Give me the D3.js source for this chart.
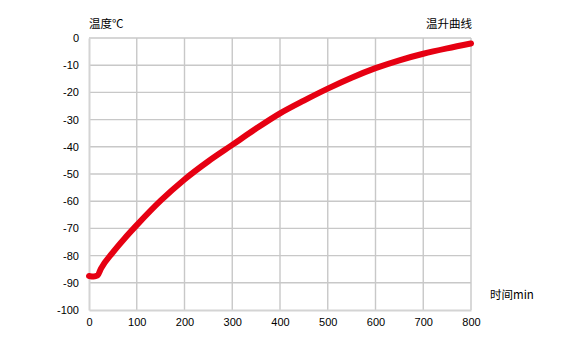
<!DOCTYPE html>
<html><head><meta charset="utf-8">
<script src="https://cdn.jsdelivr.net/npm/d3@7"></script>
<style>body{margin:0;background:#fff}svg{display:block}</style>
</head><body><svg id="c" width="580" height="350"></svg>
<script>
const minutes = [0,10,18,25,50,75,100,150,200,250,300,350,400,450,500,550,600,650,700,750,800];
const temps = [-87.5,-87.7,-87.3,-84.8,-78.8,-73.6,-68.8,-59.8,-52,-45.3,-39.3,-33.3,-27.7,-23,-18.6,-14.6,-11.1,-8.2,-5.8,-3.8,-2];
const xTicks = [0,100,200,300,400,500,600,700,800];
const yTicks = [0,-10,-20,-30,-40,-50,-60,-70,-80,-90,-100];
const yTitle = "温度℃", chartTitle = "温升曲线", xTitle = "时间min";

const svg = d3.select("#c");
const L=89, R=471, T=38, B=310;
const x = d3.scaleLinear().domain([0,800]).range([L,R]);
const y = d3.scaleLinear().domain([-100,0]).range([B,T]);
const font = "'Liberation Sans', Arial, sans-serif";
const cjk = "'Noto Sans CJK SC', sans-serif";

// grid
svg.append("g").selectAll("line").data(xTicks.filter(d=>d>0)).join("line")
  .attr("x1",d=>x(d)).attr("x2",d=>x(d)).attr("y1",T).attr("y2",B)
  .attr("stroke","#c8c8c8").attr("stroke-width",1.4);
svg.append("g").selectAll("line").data(yTicks.filter(d=>d>-100)).join("line")
  .attr("x1",L).attr("x2",R).attr("y1",d=>y(d)).attr("y2",d=>y(d))
  .attr("stroke","#c8c8c8").attr("stroke-width",1.4);

// axes
const xAxis = svg.append("g").attr("transform",`translate(0,${B})`)
  .call(d3.axisBottom(x).tickValues(xTicks).tickFormat(d=>String(d)).tickSize(0).tickPadding(8));
const yAxis = svg.append("g").attr("transform",`translate(${L},0)`)
  .call(d3.axisLeft(y).tickValues(yTicks).tickFormat(d=>String(d)).tickSize(0).tickPadding(10));
[xAxis,yAxis].forEach(a=>{
  a.select(".domain").attr("stroke","#d4d4d4").attr("stroke-width",2);
  a.selectAll("text").attr("font-family",font).attr("font-size",11).attr("fill","#000");
});

// curve
svg.append("path").datum(minutes.map((m,i)=>[m,temps[i]]))
  .attr("d", d3.line().x(d=>x(d[0])).y(d=>y(d[1])).curve(d3.curveMonotoneX))
  .attr("fill","none").attr("stroke","#e60012").attr("stroke-width",6)
  .attr("stroke-linecap","round").attr("stroke-linejoin","round");

// titles
svg.append("text").attr("x",L).attr("y",28).text(yTitle)
  .attr("font-family",cjk).attr("font-size",11.5).attr("fill","#000");
svg.append("text").attr("x",R+1).attr("y",28).attr("text-anchor","end").text(chartTitle)
  .attr("font-family",cjk).attr("font-size",11.5).attr("fill","#000");
svg.append("text").attr("x",490).attr("y",299).text(xTitle)
  .attr("font-family",cjk).attr("font-size",11.5).attr("fill","#000");
</script></body></html>
